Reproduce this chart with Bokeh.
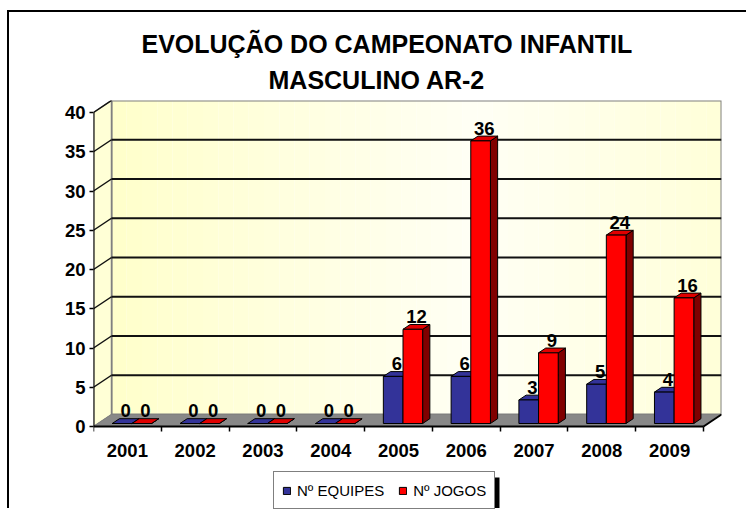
from bokeh.plotting import figure
from bokeh.models import Range1d, FixedTicker, Legend, LegendItem, Title
from bokeh.core.properties import value
from bokeh.embed import file_html
from bokeh.resources import INLINE

# ---------------- data ----------------
years = ["2001", "2002", "2003", "2004", "2005", "2006", "2007", "2008", "2009"]
equipes = [0, 0, 0, 0, 6, 6, 3, 5, 4]
jogos = [0, 0, 0, 0, 12, 36, 9, 24, 16]
series_names = ["Nº EQUIPES", "Nº JOGOS"]
y_ticks = [0, 5, 10, 15, 20, 25, 30, 35, 40]
title_lines = ["EVOLUÇÃO DO CAMPEONATO INFANTIL", "MASCULINO AR-2"]

# ---------------- styling / geometry ----------------
FONT = "Liberation Sans"
W, H = 739, 498
FL, FR, FT = 84, 27, 88
FW = W - FL - FR
FH = H - FT                      # frame runs down to the bottom edge
FLOOR_PX = 326                   # px from top of frame to the 0 line
NC = len(years)
YMAX = y_ticks[-1]
DEPTH_PX_X, DEPTH_PX_Y = 18, 12
DXU = DEPTH_PX_X * NC / (FW - DEPTH_PX_X)
DYU = DEPTH_PX_Y * YMAX / (FLOOR_PX - DEPTH_PX_Y)
PPU_X = FW / (NC + DXU)
PPU_Y = FLOOR_PX / (YMAX + DYU)
YBOT = -(FH - FLOOR_PX) / PPU_Y
F1, F2 = 0.25, 0.65            # bar depth (front / back) as fraction of wall depth
GAP, BW = 0.21, 0.29           # gap and bar width in category units

# legend box placement (px, relative to frame left / floor line)
LEG_X, LEG_W, LEG_H, LEG_BOTTOM = 180, 222, 36, 1
SHADOW = 4

front_cols = ["#333399", "#FF0000"]
top_cols = ["#333399", "#E00000"]
side_cols = ["#1F1F66", "#800000"]

p = figure(width=W, height=H, x_range=Range1d(0, NC + DXU), y_range=Range1d(YBOT, YMAX + DYU),
           output_backend="svg", toolbar_location=None,
           min_border_left=FL, min_border_right=FR, min_border_top=FT, min_border_bottom=0)
p.outline_line_color = None
p.xgrid.visible = False
p.ygrid.visible = False
p.background_fill_color = "white"
p.border_fill_color = "white"
p.styles = {"border-left": "2px solid black", "border-top": "2px solid black",
            "margin-left": "7px", "margin-top": "10px"}

# titles
p.title.text = title_lines[0]
p.title.align = "left"
p.title.offset = 48
p.title.standoff = 0
p.title.text_font = FONT
p.title.text_font_size = "25px"
p.title.text_font_style = "bold"
p.title.text_color = "black"
t2 = Title(text=title_lines[1], align="left", offset=175, standoff=13, text_font=FONT,
           text_font_size="25px", text_font_style="bold", text_color="black")
p.add_layout(t2, "above")

# ---- back wall with soft gradient ----
NS = 40
wl = [DXU + NC * k / NS for k in range(NS)]
wr = [DXU + NC * (k + 1) / NS for k in range(NS)]
def wall_col(t):
    d = abs(t - 0.6) / 0.6
    b = int(203 + (245 - 203) * (1 - min(d, 1.0)))
    return "#FFFF%02X" % b
wcols = [wall_col((k + 0.5) / NS) for k in range(NS)]
p.quad(left=wl, right=wr, bottom=DYU, top=YMAX + DYU, fill_color=wcols, line_color=None)
p.quad(left=DXU, right=NC + DXU, bottom=DYU, top=YMAX + DYU, fill_color=None,
       line_color="#808080", line_width=2)

# side wall
p.patch([0, DXU, DXU, 0], [0, DYU, YMAX + DYU, YMAX], fill_color="#FFFFD6",
        line_color="#808080", line_width=1.5)
# floor
p.patch([0, NC, NC + DXU, DXU], [0, 0, DYU, DYU], fill_color="#888888",
        line_color="#808080", line_width=1)

# gridlines (back wall + side wall)
gl = [v for v in y_ticks if 0 < v < YMAX]
p.segment(x0=DXU, y0=[v + DYU for v in gl], x1=NC + DXU, y1=[v + DYU for v in gl],
          line_color="#111111", line_width=2)
p.segment(x0=0, y0=[v for v in y_ticks[1:]], x1=DXU, y1=[v + DYU for v in y_ticks[1:]],
          line_color="#111111", line_width=1.5)

# axis lines
p.segment(x0=[0, 0, NC], y0=[0, 0, 0], x1=[0, NC, NC + DXU], y1=[YMAX, 0, DYU],
          line_color="black", line_width=2)

# ---- bars ----
xs, ys, fc = [], [], []
legend_idx = {}
for i in range(NC):
    for s, vals in enumerate([equipes, jogos]):
        v = vals[i]
        x0 = i + GAP + s * BW
        x1 = x0 + BW
        ax, ay = F1 * DXU, F1 * DYU
        bx, by = F2 * DXU, F2 * DYU
        xs.append([x1 + ax, x1 + bx, x1 + bx, x1 + ax]); ys.append([ay, by, v + by, v + ay]); fc.append(side_cols[s])
        xs.append([x0 + ax, x1 + ax, x1 + bx, x0 + bx]); ys.append([v + ay, v + ay, v + by, v + by]); fc.append(top_cols[s])
        if s not in legend_idx:
            legend_idx[s] = len(xs)
        xs.append([x0 + ax, x1 + ax, x1 + ax, x0 + ax]); ys.append([ay, ay, v + ay, v + ay]); fc.append(front_cols[s])
bars = p.patches(xs=xs, ys=ys, fill_color=fc, line_color="black", line_width=1)

# data labels
lx, ly, lt = [], [], []
for i in range(NC):
    for s, vals in enumerate([equipes, jogos]):
        lx.append(i + GAP + s * BW + BW / 2 + (F1 + F2) / 2 * DXU)
        ly.append(vals[i] + F2 * DYU)
        lt.append(str(vals[i]))
p.text(x=lx, y=ly, text=lt, text_align="center", text_baseline="alphabetic", y_offset=-8,
       text_font=value(FONT), text_font_style="bold", text_font_size="18.5px", text_color="black")

# ---- axes ----
xa = p.xaxis[0]
xa.fixed_location = 0
xa.ticker = FixedTicker(ticks=[i + 0.5 for i in range(NC)], minor_ticks=list(range(NC + 1)))
xa.major_label_overrides = {i + 0.5: years[i] for i in range(NC)}
xa.axis_line_color = None
xa.major_tick_line_color = None
xa.major_tick_out = 0
xa.major_tick_in = 0
xa.minor_tick_line_color = "black"
xa.minor_tick_line_width = 1.5
xa.minor_tick_out = 5
xa.minor_tick_in = 0
xa.major_label_standoff = 12
xa.major_label_text_font = FONT
xa.major_label_text_font_style = "bold"
xa.major_label_text_font_size = "18.5px"
xa.major_label_text_color = "black"

ya = p.yaxis[0]
ya.ticker = FixedTicker(ticks=y_ticks, minor_ticks=[])
ya.axis_line_color = None
ya.major_tick_line_color = "black"
ya.major_tick_line_width = 1.5
ya.major_tick_out = 4
ya.major_tick_in = 0
ya.minor_tick_line_color = None
ya.major_label_standoff = 4
ya.major_label_text_font = FONT
ya.major_label_text_font_style = "bold"
ya.major_label_text_font_size = "18.5px"
ya.major_label_text_color = "black"

# ---- legend drop shadow (decoration behind the legend box) ----
p.quad(left=(LEG_X + SHADOW) / PPU_X, right=(LEG_X + LEG_W + SHADOW) / PPU_X,
       top=YBOT + (LEG_BOTTOM + LEG_H - SHADOW) / PPU_Y, bottom=YBOT,
       fill_color="black", line_color=None)

# ---- legend (inside the frame, which extends below the floor) ----
legend = Legend(items=[LegendItem(label=series_names[s], renderers=[bars], index=legend_idx[s]) for s in range(2)],
                orientation="horizontal", location=(LEG_X, LEG_BOTTOM),
                border_line_color="black", border_line_width=1,
                background_fill_color="white", background_fill_alpha=1,
                label_text_font=FONT, label_text_font_size="15px", label_text_color="black",
                glyph_width=9, glyph_height=9, label_standoff=6, spacing=14,
                padding=8, margin=0, label_height=20)
p.add_layout(legend, "center")

open("out.html", "w").write(file_html(p, INLINE))
